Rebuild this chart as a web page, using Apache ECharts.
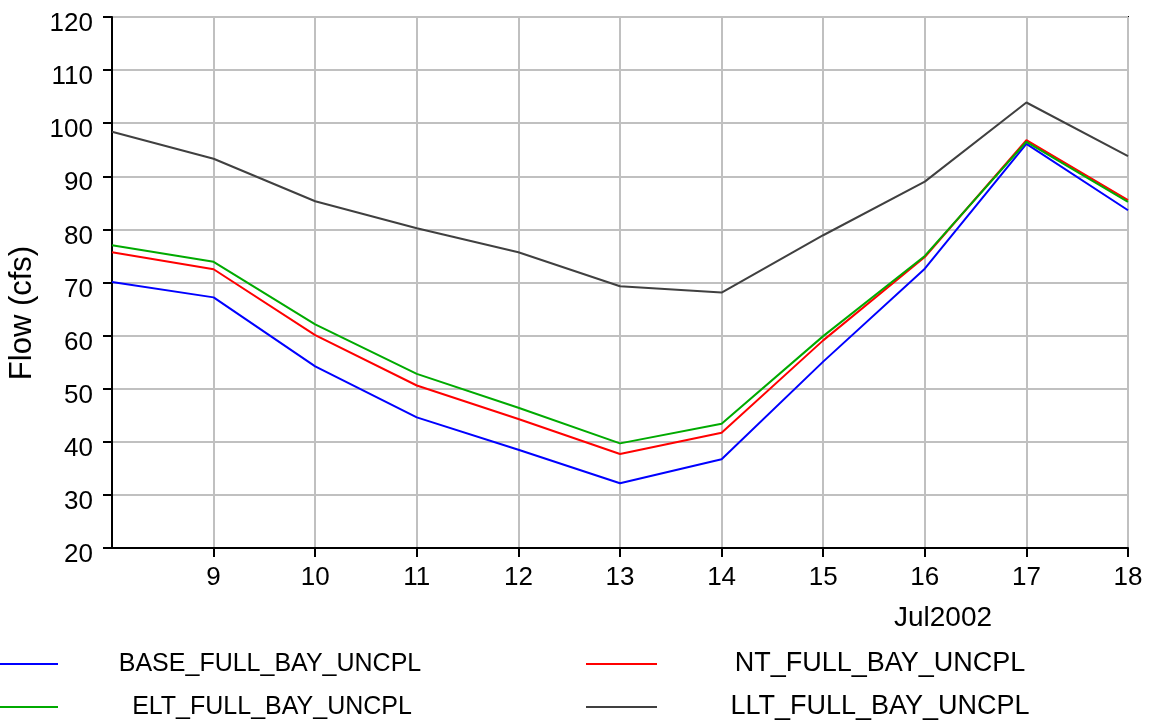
<!DOCTYPE html>
<html>
<head>
<meta charset="utf-8">
<script src="https://cdn.jsdelivr.net/npm/echarts@6/dist/echarts.min.js"></script>
<style>
html,body{margin:0;padding:0;background:#fff;}
#chart{width:1161px;height:723px;}
</style>
</head>
<body>
<div id="chart"></div>
<script>
const days = [8, 9, 10, 11, 12, 13, 14, 15, 16, 17, 18];
const seriesNames = ['BASE_FULL_BAY_UNCPL', 'NT_FULL_BAY_UNCPL', 'ELT_FULL_BAY_UNCPL', 'LLT_FULL_BAY_UNCPL'];
const baseFlow = [70.1, 67.2, 54.2, 44.6, 38.5, 32.2, 36.7, 55.1, 72.6, 96.1, 83.6];
const ntFlow   = [75.7, 72.5, 60.1, 50.6, 44.3, 37.7, 41.7, 59.1, 74.8, 96.8, 85.5];
const eltFlow  = [77.0, 73.9, 62.1, 52.8, 46.4, 39.7, 43.4, 59.9, 75.0, 96.5, 85.2];
const lltFlow  = [98.4, 93.3, 85.3, 80.2, 75.7, 69.3, 68.1, 78.9, 89.0, 103.9, 93.8];
const xAxisTitle = 'Jul2002';
const yAxisTitle = 'Flow (cfs)';

const colors = ['#0000ff', '#ff0000', '#00aa00', '#404040'];
const allData = [baseFlow, ntFlow, eltFlow, lltFlow];
const FONT = '"Liberation Sans", Arial, sans-serif';

const measureCtx = document.createElement('canvas').getContext('2d');
function textWidth(t, size) {
  measureCtx.font = size + 'px ' + FONT;
  return measureCtx.measureText(t).width;
}

const chart = echarts.init(document.getElementById('chart'), null, {renderer: 'canvas'});

// legend: line sample at [left, left+lineW], text centred at textCenter
function legendFor(i, left, top, lineW, textCenter, fontSize) {
  const textStart = left + lineW + 5;
  const w = textWidth(seriesNames[i], fontSize);
  const padLeft = Math.max(0, textCenter - w / 2 - textStart);
  return {
    show: true,
    data: [seriesNames[i]],
    left: left,
    top: top,
    orient: 'horizontal',
    icon: 'rect',
    itemWidth: lineW,
    itemHeight: 2,
    itemGap: 0,
    padding: 0,
    selectedMode: false,
    textStyle: {
      fontFamily: FONT,
      fontSize: fontSize,
      color: '#000',
      lineHeight: 30,
      padding: [0, 0, 0, padLeft]
    }
  };
}

const option = {
  backgroundColor: '#fff',
  animation: false,
  grid: {
    left: 112,
    right: 33,
    top: 17,
    bottom: 175,
    show: true,
    borderColor: '#000',
    borderWidth: 2,
    backgroundColor: 'transparent'
  },
  xAxis: {
    type: 'value',
    min: 8,
    max: 18,
    interval: 1,
    axisLine: {show: true, onZero: false, lineStyle: {color: '#000', width: 2}},
    axisTick: {show: true, length: 9, lineStyle: {color: '#000', width: 2}},
    axisLabel: {
      showMinLabel: false,
      color: '#000',
      fontFamily: FONT,
      fontSize: 26,
      margin: 17
    },
    splitLine: {show: true, lineStyle: {color: '#c0c0c0', width: 2}}
  },
  yAxis: {
    type: 'value',
    min: 20,
    max: 120,
    interval: 10,
    axisLine: {show: true, lineStyle: {color: '#000', width: 2}},
    axisTick: {show: true, length: 9, lineStyle: {color: '#000', width: 2}},
    axisLabel: {
      color: '#000',
      fontFamily: FONT,
      fontSize: 26,
      margin: 19,
      verticalAlign: 'top',
      lineHeight: 14
    },
    splitLine: {show: true, lineStyle: {color: '#c0c0c0', width: 2}}
  },
  legend: [
    legendFor(0, 0, 649, 58, 270, 25),
    legendFor(2, 0, 692, 58, 272, 25),
    legendFor(1, 586, 649, 71, 880, 27),
    legendFor(3, 586, 692, 71, 880, 27)
  ],
  graphic: [
    {
      type: 'text',
      x: 943,
      y: 618,
      style: {
        text: xAxisTitle,
        font: '28px ' + FONT,
        fill: '#000',
        textAlign: 'center',
        textVerticalAlign: 'middle'
      }
    },
    {
      type: 'text',
      x: 22,
      y: 313,
      rotation: Math.PI / 2,
      style: {
        text: yAxisTitle,
        font: '31px ' + FONT,
        fill: '#000',
        textAlign: 'center',
        textVerticalAlign: 'middle'
      }
    }
  ],
  series: seriesNames.map((name, i) => ({
    name: name,
    type: 'line',
    data: days.map((d, j) => [d, allData[i][j]]),
    showSymbol: false,
    symbol: 'none',
    color: colors[i],
    lineStyle: {color: colors[i], width: 2},
    itemStyle: {color: colors[i]},
    clip: true
  }))
};

chart.setOption(option);
</script>
</body>
</html>
